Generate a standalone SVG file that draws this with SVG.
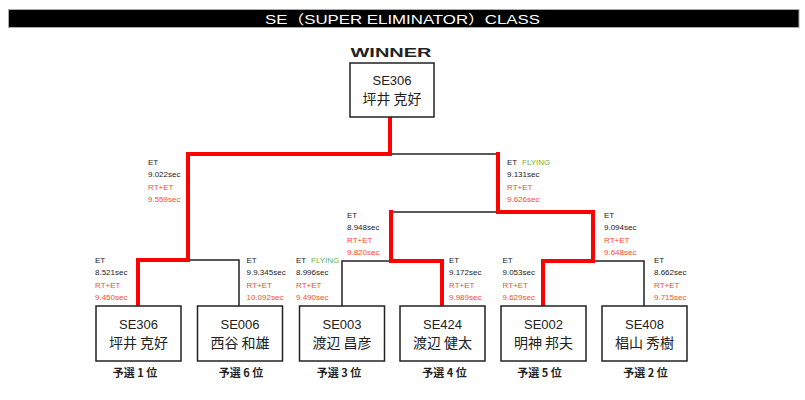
<svg xmlns="http://www.w3.org/2000/svg" width="805" height="400" viewBox="0 0 805 400">
<style>
.lbl{font-family:"Liberation Sans","Noto Sans CJK JP",sans-serif;font-size:8px;fill:#222}
.rt{fill:#ff4a2a}
.fly{fill:#6db33f}
.box{fill:#fff;stroke:#222;stroke-width:1.5}
.nm{font-family:"Liberation Sans","Noto Sans CJK JP",sans-serif;fill:#222;text-anchor:middle}
.id{font-size:13px}
.jp{font-size:14px;font-family:"Noto Sans CJK JP",sans-serif}
.rank{font-family:"Noto Sans CJK JP",sans-serif;font-size:11px;font-weight:bold;fill:#222;text-anchor:middle}
.blk{fill:none;stroke:#222;stroke-width:1.5}
.red{fill:none;stroke:#ff0000;stroke-width:4;stroke-linejoin:miter;stroke-linecap:square}
</style>
<rect width="805" height="400" fill="#fff"/>
<g id="title">
<rect x="8.5" y="9.5" width="790.5" height="18" fill="#000" stroke="#aaa" stroke-width="1"/>
<text x="402.5" y="24" font-family="'Liberation Sans','Noto Sans CJK JP',sans-serif" font-size="13" fill="#fff" text-anchor="middle" textLength="275" lengthAdjust="spacingAndGlyphs">SE（SUPER ELIMINATOR）CLASS</text>
</g>
<g id="connectors">
<path class="blk" d="M390 154 H498"/>
<path class="blk" d="M188 260 H239 V306"/>
<path class="blk" d="M391 212 H498"/>
<path class="blk" d="M391 261 H342 V306"/>
<path class="blk" d="M593 261 H644 V306"/>
<path class="red" d="M390 117 V154 H188 V260 H138 V305"/>
<path class="red" d="M498 154 V212 H593 V261 H543 V305"/>
<path class="red" d="M391 212 V261 H442 V305"/>
</g>
<g id="winner">
<text x="391" y="57" font-family="'Liberation Sans',sans-serif" font-weight="bold" font-size="13" fill="#222" text-anchor="middle" textLength="81" lengthAdjust="spacingAndGlyphs">WINNER</text>
<rect class="box" x="350" y="63" width="84" height="54"/>
<text class="nm id" x="392" y="84.5">SE306</text>
<text class="nm jp" x="392" y="103.5">坪井 克好</text>
</g>
<g id="labels">
<text class="lbl" x="148" y="165">ET</text>
<text class="lbl" x="148" y="176.5">9.022sec</text>
<text class="lbl rt" x="148" y="190">RT+ET</text>
<text class="lbl rt" x="148" y="201.5">9.559sec</text>

<text class="lbl" x="507" y="165">ET<tspan class="fly" x="522">FLYING</tspan></text>
<text class="lbl" x="507" y="176.5">9.131sec</text>
<text class="lbl rt" x="507" y="190">RT+ET</text>
<text class="lbl rt" x="507" y="201.5">9.626sec</text>

<text class="lbl" x="347" y="218">ET</text>
<text class="lbl" x="347" y="229.5">8.948sec</text>
<text class="lbl rt" x="347" y="243">RT+ET</text>
<text class="lbl rt" x="347" y="254.5">9.820sec</text>

<text class="lbl" x="604" y="218">ET</text>
<text class="lbl" x="604" y="229.5">9.094sec</text>
<text class="lbl rt" x="604" y="243">RT+ET</text>
<text class="lbl rt" x="604" y="254.5">9.648sec</text>

<text class="lbl" x="95" y="263">ET</text>
<text class="lbl" x="95" y="274.5">8.521sec</text>
<text class="lbl rt" x="95" y="288">RT+ET</text>
<text class="lbl rt" x="95" y="299.5">9.450sec</text>

<text class="lbl" x="246.5" y="263">ET</text>
<text class="lbl" x="246.5" y="274.5">9.9.345sec</text>
<text class="lbl rt" x="246.5" y="288">RT+ET</text>
<text class="lbl rt" x="246.5" y="299.5">10.092sec</text>

<text class="lbl" x="296" y="263">ET<tspan class="fly" x="311">FLYING</tspan></text>
<text class="lbl" x="296" y="274.5">8.996sec</text>
<text class="lbl rt" x="296" y="288">RT+ET</text>
<text class="lbl rt" x="296" y="299.5">9.490sec</text>

<text class="lbl" x="449" y="263">ET</text>
<text class="lbl" x="449" y="274.5">9.172sec</text>
<text class="lbl rt" x="449" y="288">RT+ET</text>
<text class="lbl rt" x="449" y="299.5">9.989sec</text>

<text class="lbl" x="502.5" y="263">ET</text>
<text class="lbl" x="502.5" y="274.5">9.053sec</text>
<text class="lbl rt" x="502.5" y="288">RT+ET</text>
<text class="lbl rt" x="502.5" y="299.5">9.629sec</text>

<text class="lbl" x="654" y="263">ET</text>
<text class="lbl" x="654" y="274.5">8.662sec</text>
<text class="lbl rt" x="654" y="288">RT+ET</text>
<text class="lbl rt" x="654" y="299.5">9.715sec</text>
</g>
<g id="n1">
<rect class="box" x="96" y="306" width="85" height="55"/>
<text class="nm id" x="138.5" y="329">SE306</text>
<text class="nm jp" x="138.5" y="348">坪井 克好</text>
<text class="rank" x="135" y="377">予選 1 位</text>
</g>
<g id="n2">
<rect class="box" x="197.5" y="306" width="85" height="55"/>
<text class="nm id" x="240" y="329">SE006</text>
<text class="nm jp" x="240" y="348">西谷 和雄</text>
<text class="rank" x="241" y="377">予選 6 位</text>
</g>
<g id="n3">
<rect class="box" x="299.5" y="306" width="85" height="55"/>
<text class="nm id" x="342" y="329">SE003</text>
<text class="nm jp" x="342" y="348">渡辺 昌彦</text>
<text class="rank" x="339" y="377">予選 3 位</text>
</g>
<g id="n4">
<rect class="box" x="400" y="306" width="85" height="55"/>
<text class="nm id" x="442.5" y="329">SE424</text>
<text class="nm jp" x="442.5" y="348">渡辺 健太</text>
<text class="rank" x="444.5" y="377">予選 4 位</text>
</g>
<g id="n5">
<rect class="box" x="501" y="306" width="85" height="55"/>
<text class="nm id" x="543.5" y="329">SE002</text>
<text class="nm jp" x="543.5" y="348">明神 邦夫</text>
<text class="rank" x="539.5" y="377">予選 5 位</text>
</g>
<g id="n6">
<rect class="box" x="602" y="306" width="85" height="55"/>
<text class="nm id" x="644.5" y="329">SE408</text>
<text class="nm jp" x="644.5" y="348">椙山 秀樹</text>
<text class="rank" x="645.5" y="377">予選 2 位</text>
</g>
</svg>
